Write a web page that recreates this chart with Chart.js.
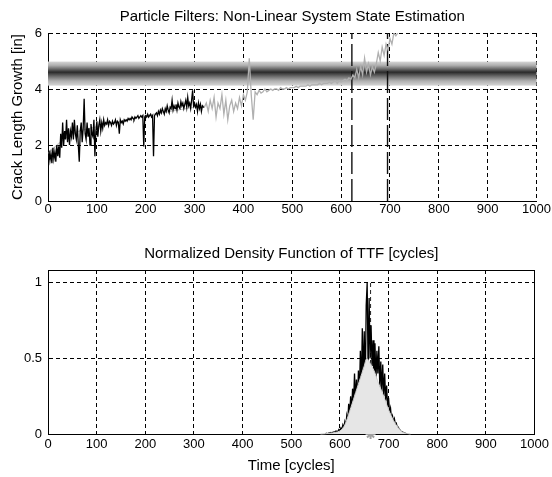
<!DOCTYPE html>
<html><head><meta charset="utf-8">
<script src="https://cdn.jsdelivr.net/npm/chart.js@4.4.0/dist/chart.umd.min.js"></script>
<style>
html,body{margin:0;padding:0;background:#fff;overflow:hidden;}
canvas{position:absolute;left:0;}
#c1{top:0;}
#c2{top:235px;}
</style></head><body>
<canvas id="c1" width="552" height="228"></canvas>
<canvas id="c2" width="552" height="242"></canvas>
<script>
// ---------- DATA ----------
const xTicks = [0,100,200,300,400,500,600,700,800,900,1000];
const yTicksTop = [0,2,4,6];
const yTicksBottom = [0,0.5,1];

// measured crack length (black), t = 0..320 step 2
const measStart = 0, measStep = 2;
const measured = [
  1.5,1.8,1.45,1.7,1.35,1.9,1.5,1.75,1.4,2.0,
  1.6,1.95,1.55,2.4,1.9,2.8,2.0,2.5,2.2,2.9,
  2.1,2.6,2.0,2.5,2.3,2.8,2.2,2.9,2.4,2.2,
  2.7,2.0,1.4,2.5,2.8,2.1,2.6,3.65,2.4,2.2,
  2.8,2.3,2.6,2.0,2.75,2.4,2.3,2.9,1.6,2.5,
  2.85,2.3,2.7,2.9,2.5,2.8,2.6,2.9,2.7,2.8,
  2.75,2.9,2.7,2.85,2.8,2.7,2.85,2.75,2.8,2.9,
  2.7,2.85,2.8,2.4,2.9,2.8,2.85,2.75,2.9,2.85,
  2.9,2.85,2.95,2.9,2.95,2.9,3.0,2.95,2.9,3.0,
  2.95,3.0,3.05,2.95,3.0,3.05,3.0,3.05,1.95,3.0,
  3.05,3.0,3.1,3.0,3.05,3.1,3.0,3.05,1.6,3.05,
  3.1,3.15,3.05,3.2,3.1,3.25,3.15,3.3,3.2,3.1,
  3.3,3.2,3.4,3.25,3.15,3.35,3.3,3.6,3.25,3.4,
  3.3,3.45,3.25,3.5,3.35,3.3,3.55,3.4,3.5,3.3,
  3.45,3.6,3.35,3.7,3.4,3.5,3.3,3.6,3.95,3.4,
  3.5,3.35,3.45,3.2,3.5,3.3,3.45,3.2,3.4,3.35,
  3.35];

// predicted crack growth (gray), t = 320..716 step 4
const predStart = 320, predStep = 4;
const predicted = [3.35,3.5,3.2,3.6,3.3,3.7,3.0,3.5,3.3,3.8,3.1,3.6,2.9,3.4,3.6,3.2,3.5,3.3,3.7,3.4,3.8,3.6,3.9,5.1,3.8,2.9,3.9,3.8,3.95,3.85,3.9,4.0,3.9,3.95,4.0,3.95,4.0,4.0,3.95,4.05,4.0,4.0,4.05,4.0,4.05,4.05,4.05,4.1,4.05,4.1,4.1,4.1,4.1,4.15,4.1,4.15,4.15,4.15,4.15,4.2,4.15,4.2,4.2,4.2,4.25,4.2,4.25,4.3,4.2,4.3,4.25,4.3,4.35,4.3,4.4,4.35,4.5,4.4,4.7,4.4,4.8,4.5,5.1,4.6,4.9,4.5,4.8,4.6,4.9,5.3,5.0,5.5,5.2,5.6,5.4,5.8,5.6,6.0,5.9,6.0];

// filtered state estimate (light gray)
const estT = [0,25,50,75,100,150,200,250,300,320];
const estV = [1.7,2.1,2.4,2.55,2.65,2.85,3.05,3.2,3.35,3.4];

// failure threshold band
const bandLow = 4.12, bandCenter = 4.6, bandHigh = 4.98;
// prediction bounds (vertical lines)
const boundTimes = [622, 695];

// TTF density (black, jagged), t = 570..740 step 2
const pdfStart = 570, pdfStep = 2;
const pdfValues = [0,0.005,0,0.005,0.005,0.01,0.005,0.01,0.01,0.015,0.01,0.02,0.015,0.02,0.03,0.02,0.04,0.03,0.06,0.04,0.08,0.05,0.12,0.08,0.2,0.12,0.25,0.15,0.3,0.2,0.4,0.22,0.36,0.18,0.42,0.25,0.55,0.3,0.7,0.35,0.68,0.3,0.85,1.0,0.4,0.9,0.5,0.72,0.45,0.62,0.3,0.6,0.35,0.55,0.4,0.58,0.3,0.48,0.28,0.46,0.25,0.4,0.22,0.32,0.18,0.24,0.14,0.17,0.1,0.12,0.08,0.1,0.06,0.07,0.04,0.045,0.03,0.025,0.015,0.015,0.01,0.008,0.005,0.003,0.002,0];
// smoothed density (gray fill)
const smoothT = [560,580,600,610,620,630,640,650,655,660,665,670,680,690,700,710,720,730,745];
const smoothV = [0,0.005,0.02,0.06,0.15,0.25,0.35,0.45,0.5,0.48,0.45,0.42,0.33,0.25,0.16,0.09,0.04,0.01,0];
const meanTTF = 663;
const meanPeak = 1.0;

// ---------- helpers ----------
const FONT = "'Liberation Sans',Arial,sans-serif";
function series(start, step, vals){ return vals.map((v,i)=>({x:start+step*i, y:v})); }
function pairs(ts, vs){ return ts.map((t,i)=>({x:t, y:vs[i]})); }
function fixTicks(arr){ return s => { s.ticks = arr.map(v=>({value:v})); }; }
const plain = v => String(v);

const gridOpts = {color:'#000', lineWidth:1, drawTicks:false};
const borderOpts = {display:true, color:'#000', width:1, dash:[4,3]};
const tickFont = {family:FONT, size:13};
const labelFont = {family:FONT, size:15, weight:'normal'};

const bandPlugin = {
  id:'band',
  beforeDatasetsDraw(chart){
    const {ctx, chartArea:a, scales:{y}} = chart;
    const top = y.getPixelForValue(bandHigh), bot = y.getPixelForValue(bandLow), c = y.getPixelForValue(bandCenter);
    const g = ctx.createLinearGradient(0, top, 0, bot);
    const cf = (c-top)/(bot-top);
    g.addColorStop(0,'#d6d6d6');
    g.addColorStop(cf*0.35,'#b0b0b0');
    g.addColorStop(cf*0.7,'#6a6a6a');
    g.addColorStop(cf,'#2a2a2a');
    g.addColorStop(cf+(1-cf)*0.3,'#6a6a6a');
    g.addColorStop(cf+(1-cf)*0.65,'#b0b0b0');
    g.addColorStop(1,'#d6d6d6');
    ctx.save();
    ctx.fillStyle = g;
    ctx.fillRect(a.left, top, a.right-a.left, bot-top);
    ctx.restore();
  }
};

// ---------- TOP CHART ----------
new Chart(document.getElementById('c1'), {
  type:'line',
  data:{datasets:[
    {data:series(predStart,predStep,predicted), borderColor:'#b0b0b0', borderWidth:1.3, pointRadius:0, tension:0},
    {data:series(measStart,measStep,measured), borderColor:'#000', borderWidth:1.3, pointRadius:0, tension:0},
    {data:pairs(estT,estV), borderColor:'#c8c8c8', borderWidth:1.2, pointRadius:0, tension:0.3},
    {data:[{x:boundTimes[0],y:0},{x:boundTimes[0],y:6}], borderColor:'#111', borderWidth:1.4, borderDash:[22,5], pointRadius:0},
    {data:[{x:boundTimes[1],y:0},{x:boundTimes[1],y:6}], borderColor:'#111', borderWidth:1.4, borderDash:[22,5], pointRadius:0}
  ]},
  options:{
    responsive:false, animation:false, events:[],
    layout:{padding:{left:0,right:15,top:0,bottom:0}},
    plugins:{
      legend:{display:false}, tooltip:{enabled:false},
      title:{display:true, fullSize:false, text:'Particle Filters: Non-Linear System State Estimation', color:'#000',
        font:labelFont, padding:{top:8,bottom:7}}
    },
    scales:{
      x:{type:'linear', min:0, max:1000, afterBuildTicks:fixTicks(xTicks), afterFit:s=>{s.height=27;},
        grid:gridOpts, border:borderOpts,
        ticks:{color:'#000', padding:1, maxRotation:0, autoSkip:false, font:tickFont, callback:plain}},
      y:{type:'linear', min:0, max:6, afterBuildTicks:fixTicks(yTicksTop), afterFit:s=>{s.width=48;},
        grid:gridOpts, border:borderOpts,
        ticks:{color:'#000', padding:6, font:tickFont, callback:plain},
        title:{display:true, text:'Crack Length Growth [in]', color:'#000', font:labelFont, padding:{top:9,bottom:0}}}
    }
  },
  plugins:[bandPlugin]
});

// ---------- BOTTOM CHART ----------
new Chart(document.getElementById('c2'), {
  type:'line',
  data:{datasets:[
    {data:pairs(smoothT,smoothV), borderColor:'#cfcfcf', borderWidth:1, backgroundColor:'#e6e6e6', fill:'origin', pointRadius:0, tension:0.3},
    {data:series(pdfStart,pdfStep,pdfValues), borderColor:'#000', borderWidth:1.3, pointRadius:0, tension:0},
    {data:[{x:meanTTF,y:0},{x:meanTTF,y:meanPeak}], borderColor:'#222', borderWidth:1, borderDash:[4,3], pointRadius:0},
    {data:[{x:meanTTF,y:0}], showLine:false, pointStyle:'star', pointRadius:5, borderWidth:2, borderColor:'#a0a0a0', backgroundColor:'#a0a0a0'}
  ]},
  options:{
    responsive:false, animation:false, events:[],
    clip:false,
    layout:{padding:{left:0,right:15,top:0,bottom:0}},
    plugins:{
      legend:{display:false}, tooltip:{enabled:false},
      title:{display:true, fullSize:false, text:'Normalized Density Function of TTF [cycles]', color:'#000',
        font:labelFont, padding:{top:10,bottom:7}}
    },
    scales:{
      x:{type:'linear', min:0, max:1000, afterBuildTicks:fixTicks(xTicks), afterFit:s=>{s.height=43;},
        grid:gridOpts, border:borderOpts,
        ticks:{color:'#000', padding:3, maxRotation:0, autoSkip:false, font:tickFont, callback:plain},
        title:{display:true, text:'Time [cycles]', color:'#000', font:labelFont, padding:{top:0,bottom:2}}},
      xTop:{type:'linear', position:'top', min:0, max:1000, afterFit:s=>{s.height=0;},
        grid:{display:false}, ticks:{display:false}, border:{display:true,color:'#000',width:1}},
      y:{type:'linear', min:0, max:1.085, afterBuildTicks:fixTicks(yTicksBottom), afterFit:s=>{s.width=48;},
        grid:gridOpts, border:borderOpts,
        ticks:{color:'#000', padding:6, font:tickFont, callback:plain}},
      yRight:{type:'linear', position:'right', min:0, max:1.085, afterFit:s=>{s.width=0;},
        grid:{display:false}, ticks:{display:false}, border:{display:true,color:'#000',width:1}}
    }
  }
});
</script>
</body></html>
